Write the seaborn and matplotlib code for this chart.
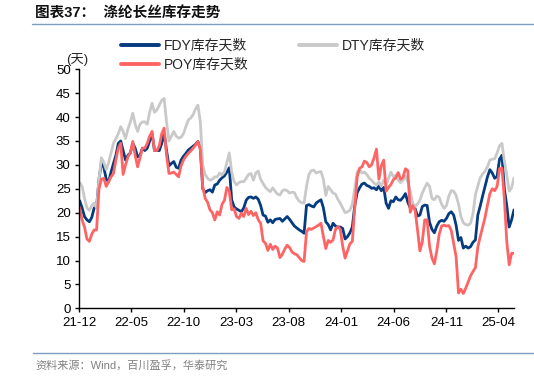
import pandas as pd
import numpy as np
import seaborn as sns
import matplotlib.pyplot as plt
import matplotlib.dates as mdates
from matplotlib.lines import Line2D

# weekly inventory days, Dec 2021 - May 2025
start_date = "2021-12-03"
n_weeks = 181

fdy = [
    22.5, 21, 19.2, 18.5, 18.1, 19, 21, 21.3, 27, 30.5,
    29.5, 27, 26.5, 28.5, 30.3, 32, 34.5, 35, 33, 31,
    32, 32.5, 34.5, 33.5, 31.7, 32, 33.5, 33, 33.5, 35,
    36.6, 33, 33, 33, 34.5, 36.6, 33, 29.8, 30.3, 30.7,
    29.5, 29.3, 31, 31.8, 32.4, 33.1, 33.5, 33.9, 34.3, 34.9,
    33.5, 25, 24.2, 24.6, 24.8, 24.3, 25.8, 26, 26.8, 27.3,
    27.7, 28.5, 29.4, 22.7, 21.2, 20.8, 20.5, 20.2, 21, 22.6,
    23.2, 23.3, 23, 23.3, 22.8, 21.5, 19.5, 19.3, 18, 18.5,
    17.9, 18.6, 18.7, 18.8, 18.2, 18.7, 19.2, 18.6, 17.9, 17.2,
    16.8, 16.4, 16.1, 15.7, 21.5, 21.7, 21.4, 21.2, 22, 22.4,
    22.7, 21, 18.1, 17.5, 16.4, 17.8, 17.2, 17, 17, 16.7,
    14.5, 15, 15.8, 17, 21.5, 24.2, 25.2, 26, 26.2, 25.7,
    25.5, 25.1, 25.2, 24.8, 25.6, 24.6, 25.3, 22, 20.9, 22.5,
    22.3, 23.3, 22.7, 22.6, 23.2, 24, 22.2, 21, 21.1, 20.9,
    19.3, 19.5, 21.3, 21.6, 21.5, 18, 16.5, 15.8, 17.2, 18.1,
    18.4, 18.2, 18.8, 19.8, 20.2, 19.5, 17.4, 14.2, 14.8, 12.6,
    13, 12.6, 12.9, 13.8, 14.3, 19.5, 21.4, 23.5, 25.5, 27.5,
    29, 28.3, 27.2, 27.6, 31.2, 32, 25, 21.5, 17, 18.5,
    20.6,
]

dty = [
    26.3, 25.5, 23, 21, 20.5, 21.5, 22, 21, 27, 31.5,
    30.5, 29, 30.5, 32.5, 34.5, 35.5, 36.5, 38, 37, 35.5,
    37.5, 39, 40.8, 38.5, 37, 38.5, 39, 39, 38.5, 41,
    42.9, 41, 41.5, 42.5, 43.5, 43.9, 39, 35, 36, 37,
    36, 35.6, 35.8, 36.5, 38, 39.4, 39.8, 40.5, 41.7, 42.5,
    39, 30, 28, 27.2, 26.8, 27, 27.5, 27.5, 28.3, 27.9,
    28.5, 30.5, 32.5, 28.5, 26.5, 25.8, 26.3, 26.5, 26.5, 27.2,
    28, 28.2, 26.8, 28.3, 28.7, 27, 26.1, 25.3, 24.8, 24.4,
    25.2, 24.5, 23.9, 23.7, 24.6, 24.8, 24.6, 24.1, 24.3, 24.2,
    23.1, 22.4, 22.1, 22, 25.5, 28, 28.8, 28.9, 28.3, 28.5,
    28.6, 27, 23.6, 25.5, 24.8, 24.1, 23.9, 22.8, 22, 21,
    20, 20.2, 20.5, 21.8, 25, 28.5, 29, 28.3, 28.5, 28,
    27.2, 26.8, 26.2, 25.8, 26.4, 25.5, 26.8, 25.8, 27.2, 28.5,
    27.5, 27.8, 26.8, 26.3, 26.8, 27.6, 26.5, 24.5, 22, 21.3,
    21.8, 22.6, 24.1, 25.2, 26.2, 25.5, 23, 22.7, 23.5, 23.2,
    21.8, 20.9, 21.5, 23.5, 24.6, 24.5, 23.6, 21.8, 19.2, 17.9,
    17.5, 17.4, 17.8, 19.8, 23.7, 25.6, 27.3, 28.1, 28.7, 29.6,
    31, 31.2, 31.3, 32.5, 34, 34.5, 30.8, 27.9, 24.5, 25.2,
    27.3,
]

poy = [
    21, 18.5, 17, 14.5, 14, 15.5, 16.4, 16.4, 25, 27,
    27.2, 25.5, 26.5, 27.5, 28.2, 31, 33.5, 34.5, 28, 30,
    31.7, 32.5, 34.9, 32, 29.6, 31.5, 33.5, 33.5, 34.5, 36,
    37, 33, 33, 34, 36.5, 37.7, 32, 28.2, 28.3, 28.5,
    28, 27.5, 29.8, 31, 31.8, 32.4, 32.9, 33.5, 34.1, 34.9,
    33.2, 25.5, 23, 22.2, 20.6, 20, 18.5, 20.2, 19.5, 21.8,
    22.6, 25.3, 24.5, 20.6, 20.8, 19.2, 18.8, 19.9, 19.2, 20.9,
    19.6, 20.3, 19.4, 20, 18.5, 17.8, 14.1, 13.6, 12.1, 13.4,
    12.3, 13, 12.6, 10.6, 11.3, 12.4, 13.2, 12.7, 11.8, 11.4,
    11.2, 10.6, 10, 9.8, 16, 16.7, 16.5, 16.8, 17.1, 17.4,
    17.8, 15, 12.5, 14.2, 13.8, 14.3, 16.5, 17.1, 16.5, 13,
    10.5, 12, 13.5, 14, 21, 27.5, 29.3, 29.6, 30.8, 30.5,
    29.6, 30, 31.5, 33.3, 27, 29.8, 31, 24.5, 25.3, 25.9,
    26.9, 27.3, 28.4, 27, 27.4, 29.2, 28.8, 20.1, 21.5, 20.5,
    16.5, 12, 13.9, 18.5, 18.5, 13, 10.5, 9.3, 12, 15.5,
    17.2, 17.4, 17.2, 17.3, 16.3, 13.5, 10.8, 3.2, 4.0, 3.1,
    4.2, 5.5, 6.8, 7.7, 8.5, 12.8, 15, 17, 19, 21.6,
    24, 25, 24.6, 25.5, 29.2, 29.3, 23, 14, 9.1, 11.5,
    11.5,
]

labels = ["FDY库存天数", "DTY库存天数", "POY库存天数"]
colors = ["#053C80", "#C9C9C9", "#FF6464"]

dates = pd.date_range(start_date, periods=n_weeks, freq="7D")
df = pd.DataFrame({"date": dates, labels[0]: fdy, labels[1]: dty, labels[2]: poy})

sns.set_theme(style="ticks")
plt.rcParams["font.family"] = ["Liberation Sans", "Noto Sans CJK SC"]

W, H = 534, 377
fig = plt.figure(figsize=(W / 100, H / 100), dpi=100)
ax = fig.add_axes([79 / W, 1 - 308.3 / H, 435 / W, 239 / H])

for lab, col in zip(labels, colors):
    sns.lineplot(data=df, x="date", y=lab, color=col, linewidth=2.0, ax=ax, label=lab, legend=False)

ax.set_ylim(0, 50)
ax.set_yticks(range(0, 51, 5))
ax.set_xlim(pd.Timestamp("2021-12-01"), dates[-1])
ax.set_xticks(pd.date_range("2021-12-01", periods=9, freq="5MS"))
ax.xaxis.set_major_formatter(mdates.DateFormatter("%y-%m"))
ax.set_xlabel("")
ax.set_ylabel("")
sns.despine(ax=ax)
for s in ["left", "bottom"]:
    ax.spines[s].set_color("black")
    ax.spines[s].set_linewidth(1)
ax.tick_params(axis="both", direction="out", length=3, width=1, color="black",
               labelsize=9.5, labelcolor="black", pad=3)

# legend: FDY, DTY on first row, POY on second
h = [Line2D([], [], color=c, lw=2.8) for c in colors]
order = [0, 2, 1]
fig.legend([h[i] for i in order], [labels[i] for i in order], ncol=2,
           loc="upper left", bbox_to_anchor=(121 / W, 1 - 39 / H),
           frameon=False, fontsize=10, handlelength=2.75, handletextpad=0.35,
           columnspacing=3.6, labelspacing=0.35, borderpad=0, borderaxespad=0)

fig.text(77 / W, 1 - 60 / H, "(天)", fontsize=9.5, ha="center", va="center")

fig.text(35 / W, 1 - 13 / H, "图表37：  涤纶长丝库存走势", fontsize=10.5,
         fontweight="bold", ha="left", va="center", color="#111111")
fig.add_artist(Line2D([32 / W, 1], [1 - 23.5 / H] * 2, color="#7F9DBF", lw=1))
fig.add_artist(Line2D([33 / W, 1], [1 - 352.5 / H] * 2, color="#7F9DBF", lw=1))
fig.text(35 / W, 1 - 365 / H, "资料来源：Wind，百川盈孚，华泰研究", fontsize=8,
         ha="left", va="center", color="#808080")

fig.savefig("out.png", dpi=100)
